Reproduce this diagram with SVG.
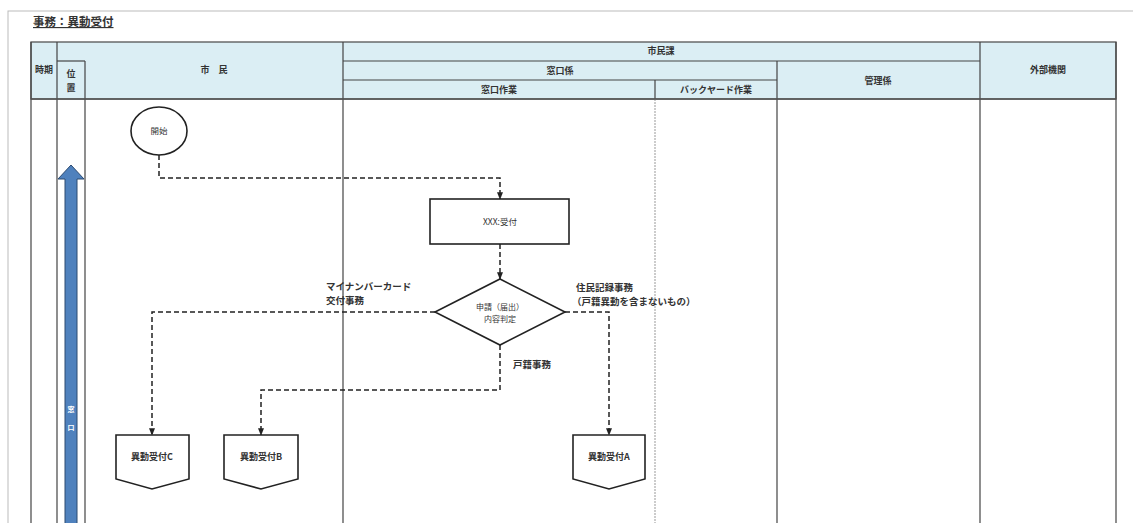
<svg xmlns="http://www.w3.org/2000/svg" width="1133" height="523" viewBox="0 0 1133 523">
<style>
text{font-family:"Noto Sans CJK JP","Liberation Sans",sans-serif;fill:#333;font-weight:bold}
.h{font-size:9px;text-anchor:middle}
.n{font-weight:normal}
.l{font-size:9.5px}
.hd{fill:#dbeef4;stroke:#555;stroke-width:1.3}
.vl{stroke:#444;stroke-width:1.2}
.con{fill:none;stroke:#222;stroke-width:1.5;stroke-dasharray:5,3;marker-end:url(#ah)}
.sh{fill:#fff;stroke:#222;stroke-width:1.6}
</style>
<defs>
<marker id="ah" viewBox="0 0 10 10" refX="9" refY="5" markerWidth="5" markerHeight="5" orient="auto" markerUnits="strokeWidth">
<path d="M0,1 L10,5 L0,9 z" fill="#222"/>
</marker>
</defs>
<rect width="1133" height="523" fill="#fff"/>
<rect x="8" y="11" width="1140" height="530" fill="none" stroke="#bbb" stroke-width="1"/>
<text x="33" y="26" font-size="11.5" text-decoration="underline">事務：異動受付</text>

<g id="table">
<rect class="hd" x="31" y="42" width="1085" height="57"/>
<line class="vl" x1="57" y1="42" x2="57" y2="523"/>
<line class="vl" x1="31" y1="42" x2="31" y2="523"/>
<line class="vl" x1="85" y1="61" x2="85" y2="523"/>
<line class="vl" x1="57" y1="61" x2="85" y2="61"/>
<line class="vl" x1="343" y1="42" x2="343" y2="523"/>
<line class="vl" x1="343" y1="61" x2="980" y2="61"/>
<line class="vl" x1="343" y1="80" x2="777" y2="80"/>
<line class="vl" x1="777" y1="61" x2="777" y2="523"/>
<line class="vl" x1="655" y1="80" x2="655" y2="99"/>
<line x1="655" y1="99" x2="655" y2="523" stroke="#999" stroke-width="1" stroke-dasharray="2,1"/>
<line class="vl" x1="980" y1="42" x2="980" y2="523"/>
<line class="vl" x1="1116" y1="42" x2="1116" y2="523"/>
<line x1="31" y1="99" x2="1116" y2="99" stroke="#555" stroke-width="1.5"/>
<text class="h" x="44" y="73">時期</text>
<text class="h" x="71" y="77">位</text>
<text class="h" x="71" y="91">置</text>
<text class="h" x="214" y="73">市　民</text>
<text class="h" x="661" y="54">市民課</text>
<text class="h" x="560" y="74">窓口係</text>
<text class="h" x="499" y="93">窓口作業</text>
<text class="h" x="716" y="93">バックヤード作業</text>
<text class="h" x="878" y="84">管理係</text>
<text class="h" x="1048" y="73">外部機関</text>
</g>

<g id="position-arrow">
<path d="M65,523 L65,179 L58,179 L71,165 L84,179 L77,179 L77,523" fill="#4f81bd" stroke="#2c4a70" stroke-width="1"/>
<text x="71" y="412" font-size="7" text-anchor="middle" style="fill:#fff">窓</text>
<text x="71" y="430" font-size="7" text-anchor="middle" style="fill:#fff">口</text>
</g>

<g id="connectors">
<path class="con" d="M159,155 L159,178 L500,178 L500,199"/>
<path class="con" d="M500,244 L500,279"/>
<path class="con" d="M435,312 L152,312 L152,435"/>
<path class="con" d="M500,345 L500,390 L261,390 L261,435"/>
<path class="con" d="M565,312 L609,312 L609,435"/>
</g>

<g id="start">
<ellipse class="sh" cx="159" cy="131" rx="28" ry="24"/>
<text class="h n" x="159" y="134" style="font-size:8.5px">開始</text>
</g>

<g id="uketsuke">
<rect class="sh" x="430" y="199" width="139" height="45"/>
<text class="h n" x="500" y="225" style="font-size:8.5px">XXX:受付</text>
</g>

<g id="decision">
<path class="sh" d="M500,279 L565,312 L500,345 L435,312 z"/>
<text class="h n" x="500" y="310" style="font-size:8px">申請（届出）</text>
<text class="h n" x="500" y="322" style="font-size:8px">内容判定</text>
</g>

<g id="labels">
<text class="l" x="326" y="290">マイナンバーカード</text>
<text class="l" x="326" y="304">交付事務</text>
<text class="l" x="576" y="291">住民記録事務</text>
<text class="l" x="572" y="305">（戸籍異動を含まないもの）</text>
<text class="l" x="513" y="368">戸籍事務</text>
</g>

<g id="ido-c">
<path class="sh" d="M116,435 L189,435 L189,479 L152,489 L116,479 z"/>
<text class="h" x="152" y="460" style="font-size:9px">異動受付C</text>
</g>
<g id="ido-b">
<path class="sh" d="M224,435 L298,435 L298,479 L261,489 L224,479 z"/>
<text class="h" x="261" y="460" style="font-size:9px">異動受付B</text>
</g>
<g id="ido-a">
<path class="sh" d="M573,435 L645,435 L645,479 L609,489 L573,479 z"/>
<text class="h" x="609" y="460" style="font-size:9px">異動受付A</text>
</g>
</svg>
